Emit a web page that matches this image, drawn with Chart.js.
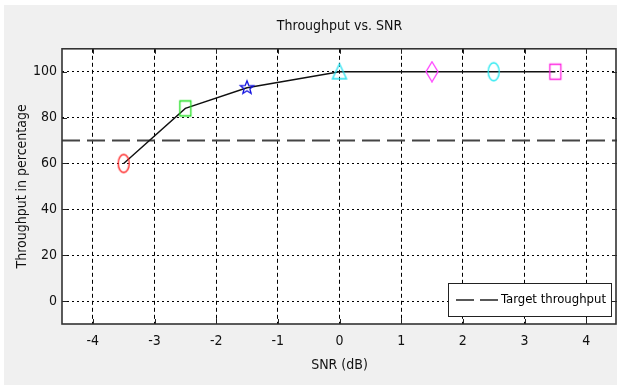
<!DOCTYPE html>
<html>
<head>
<meta charset="utf-8">
<script src="https://cdn.jsdelivr.net/npm/chart.js@4"></script>
<style>
  html, body { margin: 0; padding: 0; background: #fff; }
  #wrap { width: 617px; height: 385px; }
</style>
</head>
<body>
<div id="wrap"><canvas id="nchart" width="617" height="385"></canvas></div>
<script>
// data
const snr = [-3.5, -2.5, -1.5, 0, 1.5, 2.5, 3.5];
const throughput = [60, 84, 93, 100, 100, 100, 100];
const markerShapes = ["ellipse", "square", "star", "triangle", "diamond", "ellipse", "square"];
const markerColors = ["#ff2020", "#20e020", "#1010e0", "#20e0f0", "#ff40ff", "#20e8f0", "#ff20e0"];
const targetValue = 70;
const xRange = [-4.5, 4.5];
const yRange = [-10, 110];
const xTicks = [-4, -3, -2, -1, 0, 1, 2, 3, 4];
const yTicks = [0, 20, 40, 60, 80, 100];

const FONT = "'DejaVu Sans Condensed', 'Liberation Sans Narrow', 'Liberation Sans', Arial, sans-serif";

function makeMarker(shape, color){
    let c = document.createElement('canvas');
    c.width = 22; c.height = 22;
    let g = c.getContext('2d');
    g.strokeStyle = color;
    g.lineWidth = 1.3;
    g.beginPath();
    if(shape === "ellipse"){
        g.ellipse(11, 11, 5.5, 9, 0, 0, Math.PI*2);
    }else if(shape === "square"){
        g.rect(5.5, 3.5, 11, 15);
    }else if(shape === "diamond"){
        g.moveTo(11, 1); g.lineTo(17, 11); g.lineTo(11, 21); g.lineTo(5, 11); g.closePath();
    }else if(shape === "triangle"){
        g.moveTo(11, 3); g.lineTo(18, 18); g.lineTo(4, 18); g.closePath();
    }else if(shape === "star"){
        for(let i = 0; i < 10; i++){
            let r = i % 2 === 0 ? 7 : 3;
            let a = -Math.PI/2 + i*Math.PI/5;
            let px = 11 + r*Math.cos(a), py = 11 + r*Math.sin(a);
            if(i === 0) g.moveTo(px, py); else g.lineTo(px, py);
        }
        g.closePath();
    }
    g.stroke();
    return c;
}

let markerSets = snr.map((x, i) => ({
    label: "m" + i,
    data: [{x: x, y: throughput[i]}],
    showLine: false,
    pointStyle: makeMarker(markerShapes[i], markerColors[i]),
    pointRadius: 10,
    hoverRadius: 10
}));

const bgPlugin = {
    id: 'bg',
    beforeDraw(chart){
        let ctx = chart.ctx;
        ctx.save();
        ctx.fillStyle = '#ffffff';
        ctx.fillRect(0, 0, chart.width, chart.height);
        ctx.fillStyle = '#f0f0f0';
        ctx.fillRect(4, 5, chart.width - 4, chart.height - 5);
        let a = chart.chartArea;
        ctx.fillStyle = '#ffffff';
        ctx.fillRect(a.left, a.top, a.right - a.left, a.bottom - a.top);
        ctx.restore();
    },
    afterDraw(chart){
        let ctx = chart.ctx;
        let a = chart.chartArea;
        ctx.save();
        // small inward tick marks like matlab
        ctx.strokeStyle = '#222';
        ctx.lineWidth = 1;
        ctx.beginPath();
        xTicks.forEach(v => {
            let px = Math.round(chart.scales.x.getPixelForValue(v)) + 0.5;
            ctx.moveTo(px, a.bottom); ctx.lineTo(px, a.bottom - 5);
            ctx.moveTo(px, a.top); ctx.lineTo(px, a.top + 5);
        });
        yTicks.forEach(v => {
            let py = Math.round(chart.scales.y.getPixelForValue(v)) + 0.5;
            ctx.moveTo(a.left, py); ctx.lineTo(a.left + 5, py);
            ctx.moveTo(a.right, py); ctx.lineTo(a.right - 5, py);
        });
        ctx.stroke();
        // frame
        ctx.strokeStyle = '#333';
        ctx.lineWidth = 1.6;
        ctx.strokeRect(a.left, a.top, a.right - a.left - 1, a.bottom - a.top);
        // legend box
        let t = chart.data.datasets[1];
        let bx = a.right - 169, by = a.bottom - 41, bw = 163, bh = 33;
        ctx.fillStyle = '#fff';
        ctx.fillRect(bx, by, bw, bh);
        ctx.strokeStyle = '#222';
        ctx.lineWidth = 1;
        ctx.strokeRect(bx + 0.5, by + 0.5, bw, bh);
        ctx.strokeStyle = '#222';
        ctx.lineWidth = 1.3;
        ctx.setLineDash([18, 6]);
        ctx.beginPath();
        ctx.moveTo(bx + 8, by + 17); ctx.lineTo(bx + 50, by + 17);
        ctx.stroke();
        ctx.setLineDash([]);
        ctx.fillStyle = '#000';
        ctx.font = '13px ' + FONT;
        ctx.textBaseline = 'middle';
        ctx.fillText(t.label, bx + 53, by + 17);
        ctx.restore();
    }
};

new Chart(document.getElementById('nchart'), {
    type: 'scatter',
    data: {
        datasets: [
            {
                label: 'Throughput',
                data: snr.map((x, i) => ({x: x, y: throughput[i]})),
                showLine: true,
                borderColor: '#111',
                borderWidth: 1.4,
                pointRadius: 0,
                order: 2
            },
            {
                label: 'Target throughput',
                data: [{x: xRange[0], y: targetValue}, {x: xRange[1], y: targetValue}],
                showLine: true,
                borderColor: '#444',
                borderWidth: 2,
                borderDash: [18, 7],
                pointRadius: 0,
                order: 3
            }
        ].concat(markerSets)
    },
    options: {
        responsive: false,
        animation: false,
        layout: { autoPadding: false, padding: { left: 0, right: 0, bottom: 0, top: 0 } },
        plugins: {
            legend: { display: false },
            tooltip: { enabled: false },
            title: {
                display: true,
                fullSize: false,
                text: 'Throughput vs. SNR',
                color: '#111',
                font: { family: FONT, size: 14, weight: 'normal' },
                padding: { top: 18, bottom: 14 }
            }
        },
        scales: {
            x: {
                type: 'linear',
                min: xRange[0],
                max: xRange[1],
                afterBuildTicks: (s) => { s.ticks = xTicks.map(v => ({value: v})); },
                afterFit: (s) => { s.height = 61; },
                ticks: { color: '#111', font: { family: FONT, size: 14 }, padding: 9 },
                grid: { color: '#000', lineWidth: 1, drawTicks: false },
                border: { display: false, dash: [4, 3] },
                title: { display: true, text: 'SNR (dB)', color: '#111', font: { family: FONT, size: 14 }, padding: { top: 4, bottom: 11 } }
            },
            y: {
                type: 'linear',
                min: yRange[0],
                max: yRange[1],
                afterBuildTicks: (s) => { s.ticks = yTicks.map(v => ({value: v})); },
                afterFit: (s) => { s.width = 62; },
                ticks: { color: '#111', font: { family: FONT, size: 14 }, padding: 5 },
                grid: { color: '#000', lineWidth: 1, drawTicks: false },
                border: { display: false, dash: [2, 3] },
                title: { display: true, text: 'Throughput in percentage', color: '#111', font: { family: FONT, size: 14 }, padding: { top: 14, bottom: 6 } }
            }
        }
    },
    plugins: [bgPlugin]
});
</script>
</body>
</html>
